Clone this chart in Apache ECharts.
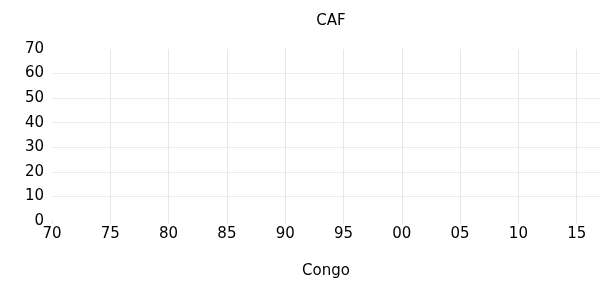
<!DOCTYPE html>
<html><head><meta charset="utf-8">
<script src="https://cdn.jsdelivr.net/npm/echarts@6/dist/echarts.min.js"></script>
<style>html,body{margin:0;padding:0;background:#fff}#c{width:614px;height:284px}</style>
</head><body><div id="c"></div>
<script>
const chartTitle = "CAF";
const xAxisName = "Congo";
const xMin = 1970, xMax = 2017, xStep = 5;
const yMin = 0, yMax = 70, yStep = 10;
const years = [];
const values = [];

const chart = echarts.init(document.getElementById('c'), null, {renderer: 'canvas'});
const font = "DejaVu Sans";
chart.setOption({
  animation: false,
  title: {text: chartTitle, left: 326, textAlign: 'center', top: 9,
    textStyle: {fontFamily: font, fontSize: 15, fontWeight: 'normal', color: '#000'}},
  grid: {left: 52, right: 14, top: 49, bottom: 62, containLabel: false},
  xAxis: {type: 'value', min: xMin, max: xMax, interval: xStep,
    name: xAxisName, nameLocation: 'middle', nameGap: 43,
    nameTextStyle: {fontFamily: font, fontSize: 15, color: '#000'},
    axisLine: {show: false},
    axisTick: {show: true, length: 3, lineStyle: {color: '#e6e6e6'}},
    axisLabel: {fontFamily: font, fontSize: 15, color: '#000', margin: 6,
      showMaxLabel: false,
      formatter: v => String(v % 100).padStart(2, '0')},
    splitLine: {show: true, showMinLine: false, showMaxLine: false, lineStyle: {color: '#e6e6e6', width: 1}}},
  yAxis: {type: 'value', min: yMin, max: yMax, interval: yStep,
    axisLine: {show: false}, axisTick: {show: false},
    axisLabel: {fontFamily: font, fontSize: 15, color: '#000', margin: 8,
      verticalAlign: 'middle', padding: [0, 0, -4, 0]},
    splitLine: {show: true, showMinLine: false, showMaxLine: false, lineStyle: {color: '#ececec', width: 1}}},
  series: [{type: 'line', data: years.map((y, i) => [y, values[i]]), showSymbol: false}]
});
</script></body></html>
